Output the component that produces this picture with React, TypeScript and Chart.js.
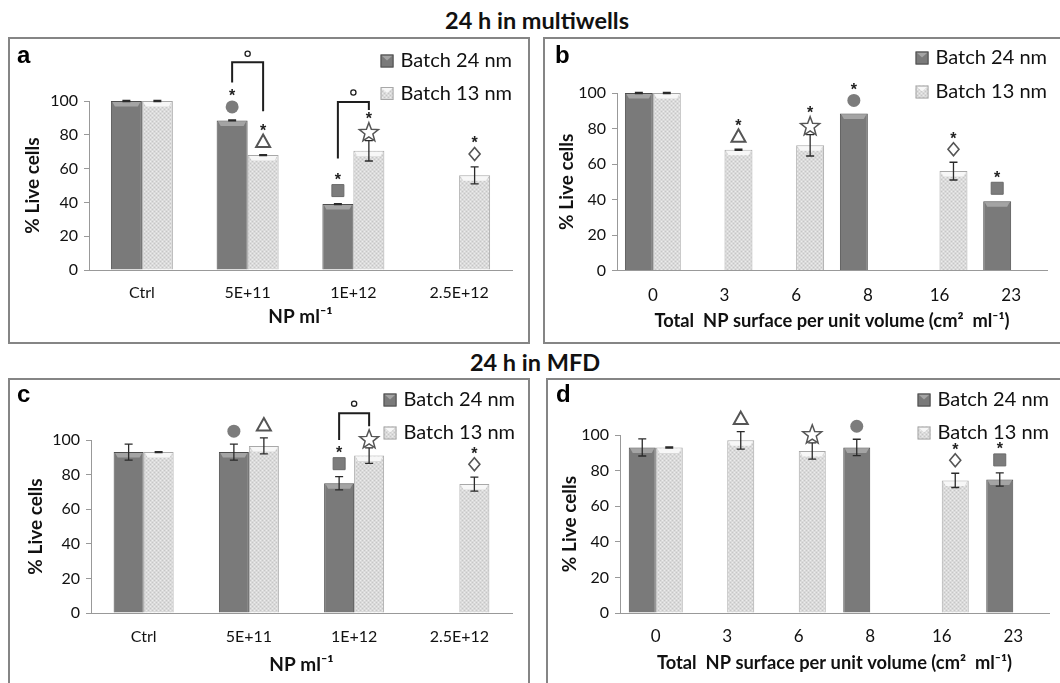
import React, { useEffect, useRef } from "react";
import { Chart, registerables } from "chart.js";

Chart.register(...registerables);

const FONT = "Lato, 'Open Sans', 'DejaVu Sans', sans-serif";

// ---------- categories, ticks, series names ----------
const concentrationLabels = ["Ctrl", "5E+11", "1E+12", "2.5E+12"];
const surfaceLabels = ["0", "3", "6", "8", "16", "23"];
const percentTicks = [0, 20, 40, 60, 80, 100];
const seriesNames = ["Batch 24 nm", "Batch 13 nm"];
const yTitle = "% Live cells";
const concTitle = "NP ml\u207B\u00B9";
const surfTitle = "Total  NP surface per unit volume (cm\u00B2  ml\u207B\u00B9)";

type Mark = "circle" | "square" | "triangle" | "star" | "diamond" | null;
type Val = number | null;

// ---------- panel a : 24 h multiwells vs concentration ----------
const aBatch24: Val[] = [100, 88.5, 39, null];
const aBatch24Err: Val[] = [0.3, 0.3, 0.3, null];
const aBatch13: Val[] = [100, 68, 70.5, 56];
const aBatch13Err: Val[] = [0.3, 0.3, 6, 5];
const aBatch24Marks: Mark[] = [null, "circle", "square", null];
const aBatch13Marks: Mark[] = [null, "triangle", "star", "diamond"];
const aBatch24Sig = [false, true, true, false];
const aBatch13Sig = [false, true, true, true];
const aBrackets = [
  { cat: 1, top: 123, left: 111, right: 94, mark: 128 },
  { cat: 2, top: 99.4, left: 66, right: 94.7, mark: 105 },
];

// ---------- panel b : 24 h multiwells vs surface ----------
const bBatch24: Val[] = [100, null, null, 88.5, null, 39];
const bBatch24Err: Val[] = [0.3, null, null, null, null, null];
const bBatch13: Val[] = [100, 68, 70.5, null, 56, null];
const bBatch13Err: Val[] = [0.3, 0.3, 6, null, 5, null];
const bBatch24Marks: Mark[] = [null, null, null, "circle", null, "square"];
const bBatch13Marks: Mark[] = [null, "triangle", "star", null, "diamond", null];
const bBatch24Sig = [false, false, false, true, false, true];
const bBatch13Sig = [false, true, true, false, true, false];

// ---------- panel c : 24 h MFD vs concentration ----------
const cBatch24: Val[] = [93, 93, 75, null];
const cBatch24Err: Val[] = [4.6, 4.6, 3.8, null];
const cBatch13: Val[] = [93, 96.6, 91, 74.5];
const cBatch13Err: Val[] = [0.3, 4.6, 4.5, 4];
const cBatch24Marks: Mark[] = [null, "circle", "square", null];
const cBatch13Marks: Mark[] = [null, "triangle", "star", "diamond"];
const cBatch24Sig = [false, false, true, false];
const cBatch13Sig = [false, false, false, true];
const cBrackets = [{ cat: 2, top: 115.4, left: 100, right: 108, mark: 121 }];

// ---------- panel d : 24 h MFD vs surface ----------
const dBatch24: Val[] = [93, null, null, 93, null, 75];
const dBatch24Err: Val[] = [4.8, null, null, 4.6, null, 3.7];
const dBatch13: Val[] = [93, 97, 91, null, 74.5, null];
const dBatch13Err: Val[] = [0.3, 4.9, 4.6, null, 4, null];
const dBatch24Marks: Mark[] = [null, null, null, "circle", null, "square"];
const dBatch13Marks: Mark[] = [null, "triangle", "star", null, "diamond", null];
const dBatch24Sig = [false, false, false, false, false, true];
const dBatch13Sig = [false, false, false, false, true, false];

interface Bracket { cat: number; top: number; left: number; right: number; mark: number; }
interface PanelCfg {
  letter: string;
  labels: string[];
  xTitle: string;
  xTitleSize: number;
  s24: Val[]; e24: Val[]; m24: Mark[]; g24: boolean[];
  s13: Val[]; e13: Val[]; m13: Mark[]; g13: boolean[];
  brackets: Bracket[];
  box: { left: number; top: number; width: number; height: number };
  cw: number; ch: number;
  area: { left: number; top: number; right: number; bottom: number };
  catPct: number;
  xTickSize: number; xTickPad: number;
  yTitlePad: number; xTitlePadB: number;
  legendRows: number[]; legendDx: number;
  letterPos: number[];
}

const panels: PanelCfg[] = [
  {
    letter: "a", labels: concentrationLabels, xTitle: concTitle, xTitleSize: 19,
    s24: aBatch24, e24: aBatch24Err, m24: aBatch24Marks, g24: aBatch24Sig,
    s13: aBatch13, e13: aBatch13Err, m13: aBatch13Marks, g13: aBatch13Sig,
    brackets: aBrackets,
    box: { left: 8, top: 37, width: 522, height: 307 }, cw: 518, ch: 303,
    area: { left: 79, top: 62, right: 502, bottom: 231 }, catPct: 0.586,
    xTickSize: 16, xTickPad: 13.4, yTitlePad: 11.6, xTitlePadB: 13.6,
    legendRows: [-40, -7.5], legendDx: 0, letterPos: [7, 24],
  },
  {
    letter: "b", labels: surfaceLabels, xTitle: surfTitle, xTitleSize: 18.3,
    s24: bBatch24, e24: bBatch24Err, m24: bBatch24Marks, g24: bBatch24Sig,
    s13: bBatch13, e13: bBatch13Err, m13: bBatch13Marks, g13: bBatch13Sig,
    brackets: [],
    box: { left: 543, top: 37, width: 540, height: 307 }, cw: 510, ch: 303,
    area: { left: 72, top: 54, right: 502, bottom: 231.5 }, catPct: 0.78,
    xTickSize: 17, xTickPad: 14.4, yTitlePad: 10.6, xTitlePadB: 10,
    legendRows: [-35, -1], legendDx: 0, letterPos: [10, 24],
  },
  {
    letter: "c", labels: concentrationLabels, xTitle: concTitle, xTitleSize: 19,
    s24: cBatch24, e24: cBatch24Err, m24: cBatch24Marks, g24: cBatch24Sig,
    s13: cBatch13, e13: cBatch13Err, m13: cBatch13Marks, g13: cBatch13Sig,
    brackets: cBrackets,
    box: { left: 8, top: 378, width: 522, height: 320 }, cw: 518, ch: 316,
    area: { left: 81, top: 60, right: 502, bottom: 233 }, catPct: 0.57,
    xTickSize: 16, xTickPad: 14.4, yTitlePad: 14.6, xTitlePadB: 19.6,
    legendRows: [-40, -7], legendDx: 3, letterPos: [7, 22],
  },
  {
    letter: "d", labels: surfaceLabels, xTitle: surfTitle, xTitleSize: 18.3,
    s24: dBatch24, e24: dBatch24Err, m24: dBatch24Marks, g24: dBatch24Sig,
    s13: dBatch13, e13: dBatch13Err, m13: dBatch13Marks, g13: dBatch13Sig,
    brackets: [],
    box: { left: 546, top: 378, width: 540, height: 320 }, cw: 507, ch: 316,
    area: { left: 72, top: 55, right: 501, bottom: 233 }, catPct: 0.755,
    xTickSize: 17, xTickPad: 13.8, yTitlePad: 10.6, xTitlePadB: 22,
    legendRows: [-35, -2], legendDx: 0, letterPos: [8, 22],
  },
];

const DARK = "#7a7a7a";
const DARK_EDGE = "#4e4e4e";
const LIGHT_EDGE = "#a8a8a8";

function makePattern(): CanvasPattern | string {
  const c = document.createElement("canvas");
  c.width = 4; c.height = 4;
  const g = c.getContext("2d");
  if (!g) return "#dcdcdc";
  g.fillStyle = "#dadada"; g.fillRect(0, 0, 4, 4);
  g.fillStyle = "#c6c6c6"; g.fillRect(0, 0, 1, 1); g.fillRect(2, 2, 1, 1);
  g.fillStyle = "#ececec"; g.fillRect(2, 0, 1, 1); g.fillRect(0, 2, 1, 1);
  return g.createPattern(c, "repeat") || "#dcdcdc";
}

function drawMarker(ctx: CanvasRenderingContext2D, m: Mark, x: number, cy: number) {
  ctx.save();
  ctx.lineJoin = "miter";
  if (m === "circle") {
    ctx.fillStyle = "#7c7c7c";
    ctx.beginPath(); ctx.arc(x, cy, 6.5, 0, Math.PI * 2); ctx.fill();
  } else if (m === "square") {
    ctx.fillStyle = "#7c7c7c"; ctx.strokeStyle = "#6a6a6a"; ctx.lineWidth = 1;
    ctx.beginPath(); ctx.rect(x - 6, cy - 6, 12, 12); ctx.fill(); ctx.stroke();
  } else if (m === "triangle") {
    ctx.fillStyle = "#fff"; ctx.strokeStyle = "#555"; ctx.lineWidth = 2;
    ctx.beginPath(); ctx.moveTo(x, cy - 7); ctx.lineTo(x + 7, cy + 5.5); ctx.lineTo(x - 7, cy + 5.5); ctx.closePath();
    ctx.fill(); ctx.stroke();
  } else if (m === "diamond") {
    ctx.fillStyle = "#fff"; ctx.strokeStyle = "#555"; ctx.lineWidth = 1.6;
    ctx.beginPath(); ctx.moveTo(x, cy - 6.5); ctx.lineTo(x + 5.5, cy); ctx.lineTo(x, cy + 6.5); ctx.lineTo(x - 5.5, cy); ctx.closePath();
    ctx.fill(); ctx.stroke();
  } else if (m === "star") {
    ctx.fillStyle = "#fff"; ctx.strokeStyle = "#555"; ctx.lineWidth = 1.5;
    ctx.beginPath();
    for (let k = 0; k < 10; k++) {
      const r = k % 2 === 0 ? 10 : 4.2;
      const a = -Math.PI / 2 + (k * Math.PI) / 5;
      const px = x + r * Math.cos(a), py = cy + 1 + r * Math.sin(a);
      if (k === 0) ctx.moveTo(px, py); else ctx.lineTo(px, py);
    }
    ctx.closePath(); ctx.fill(); ctx.stroke();
  }
  ctx.restore();
}

function drawAsterisk(ctx: CanvasRenderingContext2D, x: number, cy: number) {
  ctx.save();
  ctx.fillStyle = "#222";
  ctx.font = "bold 16px 'Liberation Sans', Arial, sans-serif";
  ctx.textAlign = "center";
  ctx.textBaseline = "middle";
  ctx.fillText("*", x, cy + 4);
  ctx.restore();
}

function makeAnnotator(cfg: PanelCfg, pattern: CanvasPattern | string) {
  return {
    id: "annotator" + cfg.letter,
    afterDatasetsDraw(chart: any) {
      const ctx: CanvasRenderingContext2D = chart.ctx;
      const ys = chart.scales.y;
      const series = [
        { v: cfg.s24, e: cfg.e24, m: cfg.m24, g: cfg.g24 },
        { v: cfg.s13, e: cfg.e13, m: cfg.m13, g: cfg.g13 },
      ];
      series.forEach((s, di) => {
        const meta = chart.getDatasetMeta(di);
        s.v.forEach((val, i) => {
          if (val == null) return;
          const bar = meta.data[i];
          const x = bar.x, w = bar.width, top = bar.y;
          // bevel highlight on bar top
          ctx.save();
          ctx.fillStyle = di === 0 ? "#a4a4a4" : "#f7f7f7";
          ctx.beginPath();
          ctx.moveTo(x - w / 2 + 1.5, top + 1);
          ctx.lineTo(x + w / 2 - 1.5, top + 1);
          ctx.lineTo(x + w / 2 - 4, top + 5.5);
          ctx.lineTo(x - w / 2 + 4, top + 5.5);
          ctx.closePath(); ctx.fill();
          ctx.restore();
          // error bar
          let peak = top;
          const err = s.e[i];
          if (err != null) {
            const yHi = ys.getPixelForValue(val + err);
            const yLo = ys.getPixelForValue(val - err);
            ctx.save();
            ctx.strokeStyle = "#2a2a2a"; ctx.lineWidth = 1.3;
            ctx.beginPath();
            ctx.moveTo(x, yHi); ctx.lineTo(x, yLo);
            ctx.moveTo(x - 4, yHi); ctx.lineTo(x + 4, yHi);
            ctx.moveTo(x - 4, yLo); ctx.lineTo(x + 4, yLo);
            ctx.stroke();
            ctx.restore();
            peak = Math.min(top, yHi);
          }
          const mk = s.m[i];
          if (mk) {
            const cy = mk === "star" ? peak - 9 : peak - 13;
            drawMarker(ctx, mk, x, cy);
            if (s.g[i]) drawAsterisk(ctx, x, cy - (mk === "star" ? 16 : 14));
          } else if (s.g[i]) {
            drawAsterisk(ctx, x, peak - 10);
          }
        });
      });
      // brackets
      cfg.brackets.forEach((b) => {
        const xl = chart.getDatasetMeta(0).data[b.cat].x;
        const xr = chart.getDatasetMeta(1).data[b.cat].x;
        const yt = ys.getPixelForValue(b.top);
        ctx.save();
        ctx.strokeStyle = "#1e1e1e"; ctx.lineWidth = 2;
        ctx.beginPath();
        ctx.moveTo(xl, ys.getPixelForValue(b.left));
        ctx.lineTo(xl, yt); ctx.lineTo(xr, yt);
        ctx.lineTo(xr, ys.getPixelForValue(b.right));
        ctx.stroke();
        ctx.lineWidth = 1.3;
        ctx.beginPath();
        ctx.arc((xl + xr) / 2, ys.getPixelForValue(b.mark), 2.6, 0, Math.PI * 2);
        ctx.stroke();
        ctx.restore();
      });
    },
    afterDraw(chart: any) {
      const ctx: CanvasRenderingContext2D = chart.ctx;
      const area = chart.chartArea;
      ctx.save();
      // panel letter
      ctx.fillStyle = "#000";
      ctx.font = "bold 24px 'Liberation Sans', Arial, sans-serif";
      ctx.textAlign = "left"; ctx.textBaseline = "alphabetic";
      ctx.fillText(cfg.letter, cfg.letterPos[0], cfg.letterPos[1]);
      // legend
      ctx.font = "20px " + FONT;
      ctx.textBaseline = "middle";
      const maxW = Math.max(...seriesNames.map((n) => ctx.measureText(n).width));
      const tx = area.right + cfg.legendDx - maxW;
      seriesNames.forEach((name, i) => {
        const cy = area.top + cfg.legendRows[i];
        const bx = tx - 20, by = cy - 6.5;
        ctx.fillStyle = i === 0 ? DARK : (pattern as any);
        ctx.fillRect(bx, by, 13, 13);
        ctx.fillStyle = i === 0 ? "#a4a4a4" : "#f7f7f7";
        ctx.beginPath(); ctx.moveTo(bx + 1, by + 1); ctx.lineTo(bx + 12, by + 1); ctx.lineTo(bx + 6.5, by + 6); ctx.closePath(); ctx.fill();
        ctx.strokeStyle = i === 0 ? DARK_EDGE : LIGHT_EDGE; ctx.lineWidth = 1;
        ctx.strokeRect(bx + 0.5, by + 0.5, 12, 12);
        ctx.fillStyle = "#111";
        ctx.fillText(name, tx, cy);
      });
      ctx.restore();
    },
  };
}

function Panel({ cfg }: { cfg: PanelCfg }) {
  const ref = useRef<HTMLCanvasElement>(null);
  useEffect(() => {
    const canvas = ref.current;
    if (!canvas) return;
    const pattern = makePattern();
    const axisGrey = "#999999";
    const chart = new Chart(canvas, {
      type: "bar",
      data: {
        labels: cfg.labels,
        datasets: [
          {
            label: seriesNames[0], data: cfg.s24 as any,
            backgroundColor: DARK, borderColor: DARK_EDGE, borderWidth: 1,
            categoryPercentage: cfg.catPct, barPercentage: 1,
          },
          {
            label: seriesNames[1], data: cfg.s13 as any,
            backgroundColor: pattern as any, borderColor: LIGHT_EDGE, borderWidth: 1,
            categoryPercentage: cfg.catPct, barPercentage: 1,
          },
        ],
      },
      options: {
        responsive: false,
        animation: false,
        devicePixelRatio: 1,
        layout: { padding: { left: 0, top: cfg.area.top, right: cfg.cw - cfg.area.right, bottom: 0 } },
        plugins: { legend: { display: false }, tooltip: { enabled: false }, title: { display: false } },
        scales: {
          x: {
            grid: { display: false, drawTicks: false },
            border: { display: true, color: axisGrey, width: 1 },
            ticks: { color: "#111", font: { family: FONT, size: cfg.xTickSize }, padding: cfg.xTickPad, maxRotation: 0, autoSkip: false },
            title: {
              display: true, text: cfg.xTitle, color: "#111",
              font: { family: FONT, size: cfg.xTitleSize, weight: "bold" },
              padding: { top: 0, bottom: cfg.xTitlePadB },
            },
            afterFit: (s: any) => { s.height = cfg.ch - cfg.area.bottom; },
          },
          y: {
            min: 0, max: 100,
            afterBuildTicks: (s: any) => { s.ticks = percentTicks.map((v) => ({ value: v })); },
            grid: { drawOnChartArea: false, drawTicks: true, tickLength: 5, color: axisGrey },
            border: { display: true, color: axisGrey, width: 1 },
            ticks: { color: "#111", font: { family: FONT, size: 16 }, padding: 6 },
            title: {
              display: true, text: yTitle, color: "#111",
              font: { family: FONT, size: 19, weight: "bold" },
              padding: { top: cfg.yTitlePad, bottom: 0 },
            },
            afterFit: (s: any) => { s.width = cfg.area.left; },
          },
        },
      } as any,
      plugins: [makeAnnotator(cfg, pattern)],
    });
    return () => chart.destroy();
  }, [cfg]);
  return (
    <div
      style={{
        position: "absolute", left: cfg.box.left, top: cfg.box.top,
        width: cfg.box.width, height: cfg.box.height,
        border: "2px solid #858585", boxSizing: "border-box", background: "#fff",
      }}
    >
      <canvas
        ref={ref}
        width={cfg.cw}
        height={cfg.ch}
        style={{ position: "absolute", left: 0, top: 0, width: cfg.cw, height: cfg.ch }}
      />
    </div>
  );
}

const headingStyle: React.CSSProperties = {
  position: "absolute", width: 400, textAlign: "center",
  fontFamily: FONT, fontWeight: 700, fontSize: 23.5, lineHeight: "30px", height: 30, color: "#111",
};

export default function App() {
  return (
    <div style={{ position: "fixed", left: 0, top: 0, width: 1060, height: 683, overflow: "hidden", background: "#fff" }}>
      <div style={{ ...headingStyle, left: 537 - 200, top: 5 }}>24 h in multiwells</div>
      {panels.slice(0, 2).map((p) => <Panel key={p.letter} cfg={p} />)}
      <div style={{ ...headingStyle, left: 535 - 200, top: 347 }}>24 h in MFD</div>
      {panels.slice(2).map((p) => <Panel key={p.letter} cfg={p} />)}
    </div>
  );
}
